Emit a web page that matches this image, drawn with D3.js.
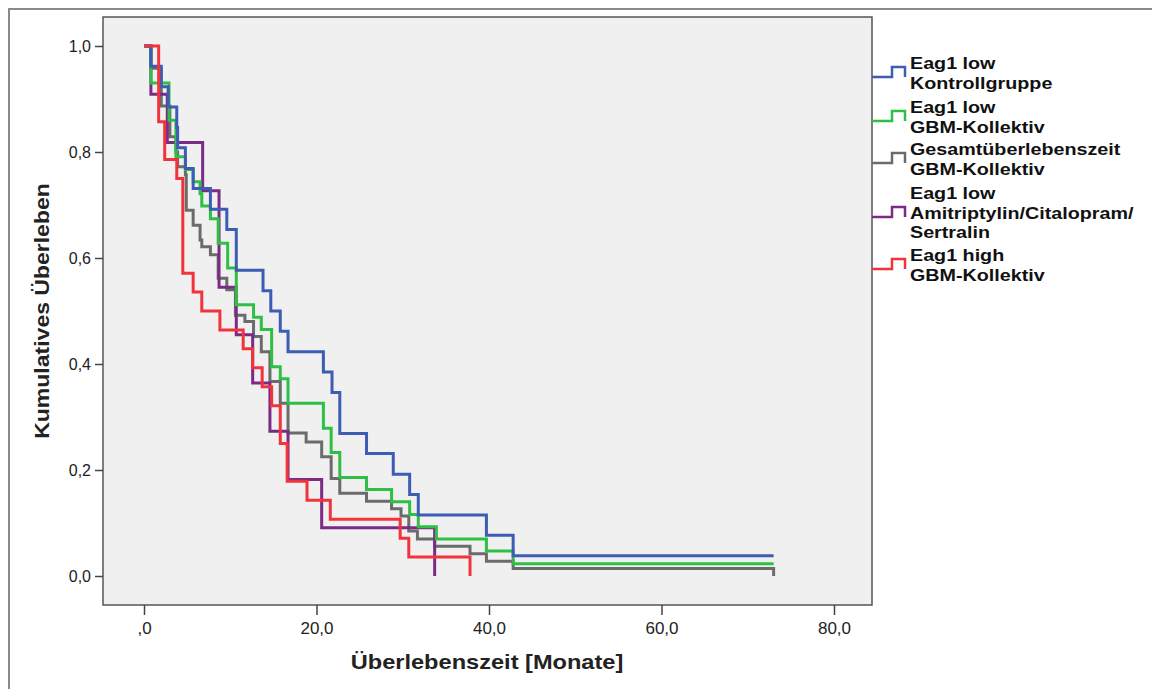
<!DOCTYPE html>
<html>
<head>
<meta charset="utf-8">
<script src="https://cdn.jsdelivr.net/npm/d3@7"></script>
<style>
  body { margin: 0; background: #fff; }
  svg { display: block; font-family: "Liberation Sans", Arial, sans-serif; }
</style>
</head>
<body>
<div id="chart"></div>
<script>
// Kaplan-Meier curves (months, cumulative survival)
var blueTimes = [0, 0.8, 2.0, 2.8, 3.8, 3.9, 4.8, 5.7, 7.7, 9.6, 10.7, 13.8, 14.7, 15.8, 16.7, 20.8, 21.8, 22.7, 25.8, 28.9, 30.8, 31.8, 39.7, 42.8, 73];
var blueSurv = [1, 0.962, 0.923, 0.885, 0.846, 0.808, 0.769, 0.731, 0.692, 0.654, 0.577, 0.538, 0.5, 0.462, 0.423, 0.385, 0.346, 0.269, 0.231, 0.192, 0.154, 0.115, 0.077, 0.038, 0.038];

var greenTimes = [0, 0.8, 2.9, 3.7, 4.8, 5.7, 6.5, 6.7, 7.7, 8.6, 9.7, 10.7, 12.7, 13.6, 14.8, 15.8, 16.7, 20.8, 21.7, 22.7, 25.8, 28.7, 30.8, 31.8, 33.9, 39.7, 42.8, 73];
var greenSurv = [1, 0.93, 0.86, 0.791, 0.767, 0.744, 0.721, 0.698, 0.674, 0.628, 0.581, 0.512, 0.488, 0.465, 0.395, 0.372, 0.326, 0.279, 0.233, 0.186, 0.163, 0.14, 0.116, 0.093, 0.07, 0.047, 0.023, 0.023];

var grayTimes = [0, 0.8, 2.0, 3.0, 3.7, 3.9, 4.8, 4.9, 5.7, 6.5, 6.7, 7.7, 8.6, 9.6, 10.6, 11.7, 12.7, 13.6, 14.6, 15.8, 16.7, 18.8, 20.6, 21.7, 22.7, 25.8, 28.7, 29.8, 30.7, 31.7, 33.7, 37.8, 39.7, 42.8, 73];
var graySurv = [1, 0.958, 0.887, 0.829, 0.8, 0.772, 0.757, 0.69, 0.662, 0.634, 0.621, 0.606, 0.562, 0.54, 0.492, 0.48, 0.452, 0.423, 0.367, 0.326, 0.27, 0.253, 0.225, 0.184, 0.156, 0.141, 0.127, 0.113, 0.085, 0.07, 0.056, 0.042, 0.028, 0.014, 0];

var purpleTimes = [0, 0.8, 2.7, 6.8, 8.7, 10.7, 12.6, 14.6, 16.7, 20.6, 33.7];
var purpleSurv = [1, 0.909, 0.818, 0.727, 0.545, 0.455, 0.364, 0.273, 0.182, 0.091, 0];

var redTimes = [0, 1.7, 2.4, 3.8, 4.5, 5.7, 6.7, 8.8, 11.5, 12.6, 13.7, 14.8, 15.8, 16.6, 18.9, 21.6, 29.7, 30.7, 37.8];
var redSurv = [1, 0.857, 0.786, 0.75, 0.571, 0.536, 0.5, 0.464, 0.429, 0.393, 0.357, 0.321, 0.25, 0.179, 0.143, 0.107, 0.071, 0.036, 0];

var seriesNames = [
  ['Eag1 low', 'Kontrollgruppe'],
  ['Eag1 low', 'GBM-Kollektiv'],
  ['Gesamtüberlebenszeit', 'GBM-Kollektiv'],
  ['Eag1 low', 'Amitriptylin/Citalopram/', 'Sertralin'],
  ['Eag1 high', 'GBM-Kollektiv']
];
var seriesColors = ['#3d5cb3', '#2fbf45', '#6b6b6b', '#7b2a86', '#f2333c'];

var xTicks = [0, 20, 40, 60, 80];
var xTickLabels = [',0', '20,0', '40,0', '60,0', '80,0'];
var yTicks = [0, 0.2, 0.4, 0.6, 0.8, 1.0];
var yTickLabels = ['0,0', '0,2', '0,4', '0,6', '0,8', '1,0'];

var width = 1152, height = 689;
var plot = {left: 103, top: 17, right: 872, bottom: 605};

var x = d3.scaleLinear().domain([0, 80]).range([144, 834]);
var y = d3.scaleLinear().domain([0, 1]).range([576, 46]);

var svg = d3.select('#chart').append('svg')
  .attr('width', width)
  .attr('height', height);

// outer frame
svg.append('rect')
  .attr('x', 9).attr('y', 9)
  .attr('width', 1200).attr('height', 720)
  .attr('fill', 'none')
  .attr('stroke', '#8a8a8a')
  .attr('stroke-width', 2);

// plot background
svg.append('rect')
  .attr('x', plot.left).attr('y', plot.top)
  .attr('width', plot.right - plot.left)
  .attr('height', plot.bottom - plot.top)
  .attr('fill', '#f0f0f0');

// curves
var series = [
  {t: blueTimes, s: blueSurv, c: 0},
  {t: greenTimes, s: greenSurv, c: 1},
  {t: grayTimes, s: graySurv, c: 2},
  {t: purpleTimes, s: purpleSurv, c: 3},
  {t: redTimes, s: redSurv, c: 4}
];
var drawOrder = [2, 3, 1, 0, 4];

var line = d3.line()
  .x(function(d){ return x(d[0]); })
  .y(function(d){ return y(d[1]); })
  .curve(d3.curveStepAfter);

drawOrder.forEach(function(i){
  var sr = series[i];
  var pts = sr.t.map(function(t, k){ return [t, sr.s[k]]; });
  svg.append('path')
    .attr('d', line(pts))
    .attr('fill', 'none')
    .attr('stroke', seriesColors[sr.c])
    .attr('stroke-width', 3);
});

// plot border
svg.append('rect')
  .attr('x', plot.left).attr('y', plot.top)
  .attr('width', plot.right - plot.left)
  .attr('height', plot.bottom - plot.top)
  .attr('fill', 'none')
  .attr('stroke', '#555')
  .attr('stroke-width', 1.5);

// axes
var xAxis = svg.append('g')
  .attr('transform', 'translate(0,' + plot.bottom + ')')
  .call(d3.axisBottom(x).tickValues(xTicks).tickSize(10).tickPadding(7)
    .tickFormat(function(d, i){ return xTickLabels[i]; }));
xAxis.select('.domain').remove();

var yAxis = svg.append('g')
  .attr('transform', 'translate(' + plot.left + ',0)')
  .call(d3.axisLeft(y).tickValues(yTicks).tickSize(8).tickPadding(4)
    .tickFormat(function(d, i){ return yTickLabels[i]; }));
yAxis.select('.domain').remove();

svg.selectAll('.tick line').attr('stroke', '#444').attr('stroke-width', 1.5);
svg.selectAll('.tick text')
  .attr('fill', '#222')
  .style('font-size', '16px')
  .style('font-family', '"Liberation Sans", Arial, sans-serif');
xAxis.selectAll('.tick text').style('font-size', '17px');

// axis titles (the source text is a little stretched sideways)
svg.append('text')
  .attr('transform', 'translate(487,669) scale(1.18,1)')
  .attr('text-anchor', 'middle')
  .style('font-size', '20px')
  .style('font-weight', 'bold')
  .attr('fill', '#222')
  .text('Überlebenszeit [Monate]');

svg.append('text')
  .attr('transform', 'translate(49,311) rotate(-90) scale(1.15,1)')
  .attr('text-anchor', 'middle')
  .style('font-size', '20px')
  .style('font-weight', 'bold')
  .attr('fill', '#222')
  .text('Kumulatives Überleben');

// legend
var legendTop = [63, 107, 149, 193, 255];
var legend = svg.append('g');
seriesNames.forEach(function(lines, i){
  var baseY = legendTop[i];
  var symY = lines.length === 3 ? baseY + 24 : baseY + 14;
  legend.append('path')
    .attr('d', 'M' + plot.right + ',' + symY + 'h20v-10h13v10')
    .attr('fill', 'none')
    .attr('stroke', seriesColors[i])
    .attr('stroke-width', 2.5);
  lines.forEach(function(txt, k){
    legend.append('text')
      .attr('transform', 'translate(910,' + (baseY + k * 19.5 + 6) + ') scale(1.16,1)')
      .style('font-size', '17px')
      .style('font-weight', 'bold')
      .attr('fill', '#111')
      .text(txt);
  });
});
</script>
</body>
</html>
